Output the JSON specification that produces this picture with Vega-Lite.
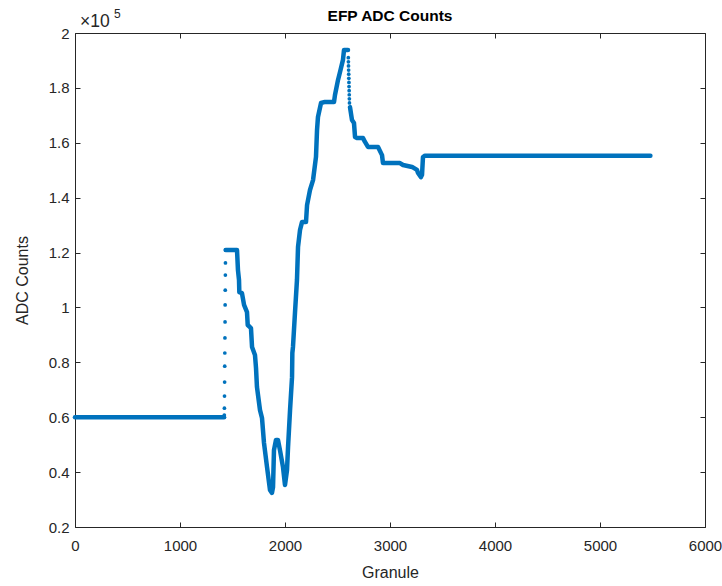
{
  "$schema": "https://vega.github.io/schema/vega-lite/v6.json",
  "width": 630,
  "height": 494,
  "autosize": {"type": "none"},
  "padding": {"left": 75, "top": 33, "right": 17, "bottom": 59},
  "background": "white",
  "config": {
    "view": {"stroke": "#262626", "strokeWidth": 1},
    "font": "Liberation Sans",
    "axis": {
      "grid": false,
      "domain": false,
      "offset": -5,
      "tickColor": "#262626",
      "tickWidth": 1,
      "tickSize": 5,
      "labelColor": "#262626",
      "labelFont": "Liberation Sans",
      "labelFontSize": 15,
      "titleColor": "#262626",
      "titleFont": "Liberation Sans",
      "titleFontSize": 16,
      "titleFontWeight": "normal"
    }
  },
  "title": {
    "text": "EFP ADC Counts",
    "font": "Liberation Sans",
    "fontSize": 15.5,
    "fontWeight": "bold",
    "color": "#000000",
    "anchor": "middle",
    "offset": -16
  },
  "datasets": {
    "curve": [
      {"seg": "A", "granule": 0, "adc": 60000},
      {"seg": "A", "granule": 1420, "adc": 60000},
      {"seg": "B", "granule": 1435, "adc": 120900},
      {"seg": "B", "granule": 1543, "adc": 120900},
      {"seg": "B", "granule": 1552, "adc": 113600},
      {"seg": "B", "granule": 1562, "adc": 110000},
      {"seg": "B", "granule": 1565, "adc": 105600},
      {"seg": "B", "granule": 1590, "adc": 105200},
      {"seg": "B", "granule": 1610, "adc": 100900},
      {"seg": "B", "granule": 1638, "adc": 98300},
      {"seg": "B", "granule": 1645, "adc": 93600},
      {"seg": "B", "granule": 1676, "adc": 92500},
      {"seg": "B", "granule": 1686, "adc": 85600},
      {"seg": "B", "granule": 1714, "adc": 82700},
      {"seg": "B", "granule": 1724, "adc": 77900},
      {"seg": "B", "granule": 1733, "adc": 71000},
      {"seg": "B", "granule": 1762, "adc": 62600},
      {"seg": "B", "granule": 1781, "adc": 59700},
      {"seg": "B", "granule": 1800, "adc": 50600},
      {"seg": "B", "granule": 1829, "adc": 41800},
      {"seg": "B", "granule": 1857, "adc": 33500},
      {"seg": "B", "granule": 1876, "adc": 32400},
      {"seg": "B", "granule": 1886, "adc": 34500},
      {"seg": "B", "granule": 1895, "adc": 48000},
      {"seg": "B", "granule": 1914, "adc": 51700},
      {"seg": "B", "granule": 1933, "adc": 51700},
      {"seg": "B", "granule": 1952, "adc": 48000},
      {"seg": "B", "granule": 1981, "adc": 41800},
      {"seg": "B", "granule": 2000, "adc": 35300},
      {"seg": "B", "granule": 2019, "adc": 40700},
      {"seg": "B", "granule": 2029, "adc": 49100},
      {"seg": "B", "granule": 2048, "adc": 62600},
      {"seg": "B", "granule": 2067, "adc": 74600},
      {"seg": "B", "granule": 2070, "adc": 83400},
      {"seg": "B", "granule": 2076, "adc": 85600},
      {"seg": "B", "granule": 2095, "adc": 98000},
      {"seg": "B", "granule": 2114, "adc": 110000},
      {"seg": "B", "granule": 2124, "adc": 122000},
      {"seg": "B", "granule": 2143, "adc": 128200},
      {"seg": "B", "granule": 2162, "adc": 131100},
      {"seg": "B", "granule": 2200, "adc": 131100},
      {"seg": "B", "granule": 2210, "adc": 137300},
      {"seg": "B", "granule": 2238, "adc": 142800},
      {"seg": "B", "granule": 2267, "adc": 146400},
      {"seg": "B", "granule": 2295, "adc": 154800},
      {"seg": "B", "granule": 2305, "adc": 164600},
      {"seg": "B", "granule": 2314, "adc": 169400},
      {"seg": "B", "granule": 2343, "adc": 174500},
      {"seg": "B", "granule": 2381, "adc": 174900},
      {"seg": "B", "granule": 2467, "adc": 174900},
      {"seg": "B", "granule": 2476, "adc": 177400},
      {"seg": "B", "granule": 2505, "adc": 182900},
      {"seg": "B", "granule": 2524, "adc": 185800},
      {"seg": "B", "granule": 2552, "adc": 190200},
      {"seg": "B", "granule": 2562, "adc": 193800},
      {"seg": "B", "granule": 2600, "adc": 193800},
      {"seg": "C", "granule": 2619, "adc": 173000},
      {"seg": "C", "granule": 2638, "adc": 168300},
      {"seg": "C", "granule": 2657, "adc": 167200},
      {"seg": "C", "granule": 2667, "adc": 162100},
      {"seg": "C", "granule": 2686, "adc": 161700},
      {"seg": "C", "granule": 2743, "adc": 161700},
      {"seg": "C", "granule": 2762, "adc": 160300},
      {"seg": "C", "granule": 2790, "adc": 158500},
      {"seg": "C", "granule": 2886, "adc": 158500},
      {"seg": "C", "granule": 2924, "adc": 155500},
      {"seg": "C", "granule": 2933, "adc": 152600},
      {"seg": "C", "granule": 3095, "adc": 152600},
      {"seg": "C", "granule": 3124, "adc": 151900},
      {"seg": "C", "granule": 3210, "adc": 151200},
      {"seg": "C", "granule": 3257, "adc": 150100},
      {"seg": "C", "granule": 3267, "adc": 149000},
      {"seg": "C", "granule": 3295, "adc": 147500},
      {"seg": "C", "granule": 3305, "adc": 148300},
      {"seg": "C", "granule": 3314, "adc": 154800},
      {"seg": "C", "granule": 3333, "adc": 155300},
      {"seg": "C", "granule": 5480, "adc": 155300}
    ],
    "dots": [
      {"granule": 1422, "adc": 60800},
      {"granule": 1423, "adc": 63300},
      {"granule": 1424, "adc": 67700},
      {"granule": 1425, "adc": 72800},
      {"granule": 1426, "adc": 78600},
      {"granule": 1427, "adc": 83400},
      {"granule": 1428, "adc": 88900},
      {"granule": 1429, "adc": 94700},
      {"granule": 1430, "adc": 100900},
      {"granule": 1431, "adc": 106300},
      {"granule": 1432, "adc": 111800},
      {"granule": 1433, "adc": 116200},
      {"granule": 1434, "adc": 120900},
      {"granule": 2603, "adc": 191000},
      {"granule": 2604, "adc": 189500},
      {"granule": 2605, "adc": 188000},
      {"granule": 2606, "adc": 186500},
      {"granule": 2607, "adc": 185000},
      {"granule": 2608, "adc": 183500},
      {"granule": 2609, "adc": 182000},
      {"granule": 2610, "adc": 180500},
      {"granule": 2611, "adc": 179000},
      {"granule": 2612, "adc": 177500},
      {"granule": 2613, "adc": 176000},
      {"granule": 2614, "adc": 174500}
    ],
    "anchor": [{"label": "axis exponent"}]
  },
  "layer": [
    {
      "data": {"name": "curve"},
      "mark": {"type": "line", "color": "#0072BD", "strokeWidth": 4.5, "strokeCap": "round", "strokeJoin": "round"},
      "encoding": {
        "x": {
          "field": "granule", "type": "quantitative",
          "scale": {"domain": [0, 6000], "nice": false, "zero": false},
          "axis": {"orient": "bottom", "values": [0, 1000, 2000, 3000, 4000, 5000, 6000], "format": "d", "title": "Granule", "labelPadding": 11, "titlePadding": 11, "labelFlush": false}
        },
        "y": {
          "field": "adc", "type": "quantitative",
          "scale": {"domain": [20000, 200000], "nice": false, "zero": false},
          "axis": {"orient": "left", "values": [20000, 40000, 60000, 80000, 100000, 120000, 140000, 160000, 180000, 200000], "labelExpr": "format(datum.value / 100000, '~g')", "title": "ADC Counts", "labelPadding": 6, "titlePadding": 18, "labelFlush": false}
        },
        "detail": {"field": "seg", "type": "nominal"}
      }
    },
    {
      "data": {"name": "dots"},
      "mark": {"type": "circle", "color": "#0072BD", "size": 14, "opacity": 1},
      "encoding": {
        "x": {
          "field": "granule", "type": "quantitative",
          "scale": {"domain": [0, 6000], "nice": false, "zero": false},
          "axis": {"orient": "top", "values": [0, 1000, 2000, 3000, 4000, 5000, 6000], "labels": false, "title": null}
        },
        "y": {
          "field": "adc", "type": "quantitative",
          "scale": {"domain": [20000, 200000], "nice": false, "zero": false},
          "axis": {"orient": "right", "values": [20000, 40000, 60000, 80000, 100000, 120000, 140000, 160000, 180000, 200000], "labels": false, "title": null}
        }
      }
    },
    {
      "data": {"name": "anchor"},
      "mark": {"type": "text", "text": "×10", "font": "Liberation Sans", "fontSize": 17.5, "color": "#262626", "align": "left", "baseline": "alphabetic", "dx": 5, "dy": -6},
      "encoding": {
        "x": {"datum": 0, "type": "quantitative", "axis": null},
        "y": {"datum": 200000, "type": "quantitative", "axis": null}
      }
    },
    {
      "data": {"name": "anchor"},
      "mark": {"type": "text", "text": "5", "font": "Liberation Sans", "fontSize": 12, "color": "#262626", "align": "left", "baseline": "alphabetic", "dx": 39, "dy": -15},
      "encoding": {
        "x": {"datum": 0, "type": "quantitative", "axis": null},
        "y": {"datum": 200000, "type": "quantitative", "axis": null}
      }
    }
  ],
  "resolve": {"axis": {"x": "independent", "y": "independent"}}
}
